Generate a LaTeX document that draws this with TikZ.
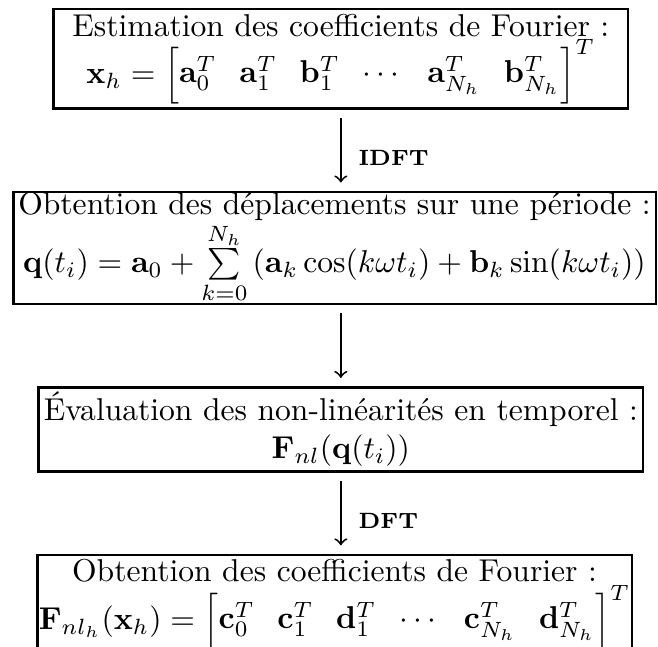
\documentclass[tikz,border=0pt]{standalone}
\usepackage{amsmath}
\usetikzlibrary{positioning,calc}
\setlength{\arraycolsep}{3.6pt}

\begin{document}
\begin{tikzpicture}[node distance=9mm,
  etape/.style={draw,thick,align=center,inner xsep=1.6pt,inner ysep=1.5pt},
  fleche/.style={->,semithick,shorten <=2.6pt,shorten >=2.6pt},
  etiq/.style={right=2pt,font=\scriptsize\bfseries}]
\node[etape,inner xsep=6pt] (coeffs) at (0,0) {Estimation des coefficients de Fourier :\\
  $\mathbf{x}_h=\Bigl[\begin{matrix}\mathbf{a}_0^T & \mathbf{a}_1^T & \mathbf{b}_1^T & \cdots & \mathbf{a}_{N_h}^T & \mathbf{b}_{N_h}^T\end{matrix}\Bigr]^T$};
\node[etape,inner ysep=0pt,below=of coeffs,xshift=-2pt] (depl) {Obtention des d\'eplacements sur une p\'eriode :\\
  $\mathbf{q}(t_i)=\mathbf{a}_0+\sum\limits_{k=0}^{N_h}\left(\mathbf{a}_k\cos(k\omega t_i)+\mathbf{b}_k\sin(k\omega t_i)\right)$};
\node[etape,below=of depl,xshift=2pt] (nonlin) {\'Evaluation des non-lin\'earit\'es en temporel :\\
  $\mathbf{F}_{nl}(\mathbf{q}(t_i))$};
\node[etape,inner xsep=0.5pt,below=of nonlin,xshift=-2pt] (fourier) {Obtention des coefficients de Fourier :\\
  $\mathbf{F}_{nl_h}(\mathbf{x}_h)=\Bigl[\begin{matrix}\mathbf{c}_0^T & \mathbf{c}_1^T & \mathbf{d}_1^T & \cdots & \mathbf{c}_{N_h}^T & \mathbf{d}_{N_h}^T\end{matrix}\Bigr]^T$};

\draw[fleche] (coeffs.south) -- (coeffs.south |- depl.north) node[etiq,pos=0.6] {IDFT};
\draw[fleche] (nonlin.north |- depl.south) -- (nonlin.north);
\draw[fleche] (nonlin.south) -- (nonlin.south |- fourier.north) node[etiq,pos=0.6] {DFT};

% cadre de l'image, coupe en bas
\pgfresetboundingbox
\path let \p1=(depl.west), \p2=(depl.east), \p3=(coeffs.north) in
  [use as bounding box] (\x1-3.8pt,\y3+2.5pt) rectangle ({\x2+0.3pt},{\y3+2.5pt-0.9818*(\x2-\x1+4.1pt)});
\end{tikzpicture}
\end{document}
